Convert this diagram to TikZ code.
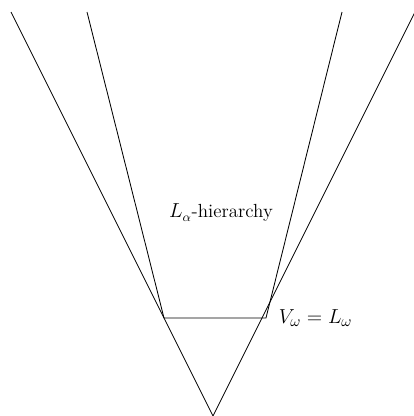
\documentclass[tikz,border=0pt]{standalone}
\usepackage{tikz}
\usetikzlibrary{positioning, calc}
\tikzset{
  % Lines of the cone
  coneline/.style={line width=0.6pt, black},
  % Labels
  conelabel/.style={font=\fontsize{13.5}{15}\selectfont, inner sep=1pt},
  eqlabel/.style={font=\fontsize{15}{17}\selectfont, inner sep=1pt},
}

\begin{document}
\begin{tikzpicture}[x=0.025cm, y=-0.025cm]
  \useasboundingbox (0,0) rectangle (414,416);
  % Corner points
  \coordinate (apex) at (213,416);
  \coordinate (lc) at (164,318);
  \coordinate (rc) at (266,318);
  \coordinate (outl) at (11,12);
  \coordinate (outr) at (415,12);
  \coordinate (inl) at (87,12);
  \coordinate (inr) at (342,12);

  % Lines
  \draw[coneline] (outl) -- (apex) -- (outr);
  \draw[coneline] (inl) -- (lc) -- (rc) -- (inr);

  % Labels
  \node[conelabel] (hier) at (221,213) {$L_\alpha$-hierarchy};
  \node[eqlabel, right=8pt of rc] (vw) {$V_\omega = L_\omega$};
\end{tikzpicture}
\end{document}
